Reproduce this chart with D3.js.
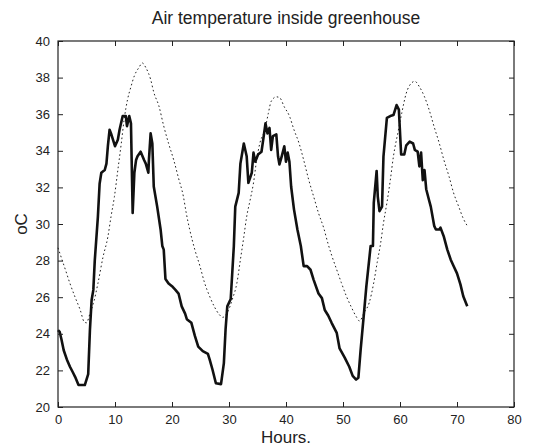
<!DOCTYPE html>
<html>
<head>
<meta charset="utf-8">
<script src="https://cdn.jsdelivr.net/npm/d3@7"></script>
<style>
  body { margin: 0; background: #fff; }
  text { font-family: "Liberation Sans", Arial, sans-serif; fill: #222; }
</style>
</head>
<body>
<svg id="chart" width="533" height="447"></svg>
<script>
// measured air temperature (solid)
const measuredHours = [0, 0.3, 0.6, 1.0, 1.55, 2.1, 2.6, 3.0, 3.6, 4.7, 5.3, 5.6, 5.9, 6.2, 6.45, 7.0, 7.3, 7.6, 8.2, 8.5,
  8.75, 9.05, 9.3, 10.0, 10.5, 10.8, 11.35, 11.9, 12.1, 12.5, 12.8, 13.1, 13.4, 13.7, 13.95, 14.5, 15.1, 15.4, 15.85, 15.95,
  16.25, 16.55, 16.8, 17.4, 18.0, 18.3, 18.55, 18.85, 19.4, 20.0, 20.6, 21.15, 21.7, 22.3, 22.6, 23.4, 24.0, 24.6, 25.4, 26.3,
  26.6, 27.1, 27.7, 28.6, 29.1, 29.4, 29.7, 30.3, 30.85, 31.1, 31.7, 32.0, 32.6, 33.1, 33.4, 34.0, 34.3, 34.6, 35.1, 35.7,
  36.0, 36.4, 36.75, 37.1, 37.4, 37.7, 38.3, 38.6, 38.85, 39.25, 39.7, 40.0, 40.3, 40.6, 40.9, 41.4, 42.0, 42.6, 43.1, 43.7,
  44.3, 44.85, 45.7, 46.3, 46.8, 47.4, 48.0, 48.9, 49.4, 50.3, 51.1, 51.7, 52.3, 52.7, 53.1, 53.7, 54.1, 54.85, 55.25, 55.4,
  55.9, 56.1, 56.4, 56.85, 57.1, 57.7, 58.3, 58.85, 59.4, 59.8, 60.2, 60.75, 61.1, 61.7, 62.3, 62.6, 63.1, 63.4, 63.7, 64.0,
  64.3, 64.6, 65.1, 65.4, 66.0, 66.3, 66.9, 67.1, 67.7, 68.3, 68.9, 69.4, 70.0, 70.6, 71.1, 71.8];
const measuredTemp = [24.2, 24.1, 23.7, 23.1, 22.6, 22.2, 21.9, 21.65, 21.2, 21.2, 21.8, 24.2, 25.85, 26.4, 28.0, 30.4, 32.2, 32.8, 32.95, 33.3,
  34.25, 35.15, 34.95, 34.25, 34.6, 35.15, 35.9, 35.9, 35.35, 35.9, 35.5, 30.6, 32.8, 33.5, 33.7, 33.95, 33.5, 33.3, 32.8, 33.5,
  34.95, 34.4, 32.05, 30.95, 29.7, 28.8, 28.6, 27.0, 26.75, 26.6, 26.4, 26.2, 25.5, 25.1, 24.8, 24.6, 23.9, 23.3, 23.05, 22.9,
  22.6, 22.05, 21.3, 21.25, 22.4, 24.25, 25.5, 25.9, 28.8, 30.95, 31.7, 33.3, 34.4, 33.7, 32.25, 32.8, 33.9, 33.4, 33.8, 33.95,
  34.6, 35.5, 34.95, 35.25, 34.05, 34.8, 34.9, 33.7, 33.25, 33.7, 34.25, 33.4, 33.9, 33.4, 32.05, 30.8, 29.7, 28.8, 27.7, 27.7,
  27.5, 26.95, 26.2, 25.95, 25.3, 25.0, 24.6, 24.05, 23.2, 22.7, 22.2, 21.7, 21.5, 21.6, 23.15, 25.2, 26.6, 28.8, 28.8, 31.15,
  32.9, 31.5, 30.7, 30.95, 33.7, 35.8, 35.9, 35.95, 36.5, 36.25, 33.8, 33.8, 34.3, 34.5, 34.4, 34.05, 33.95, 33.15, 33.9, 32.4,
  32.95, 31.9, 31.3, 30.95, 29.9, 29.7, 29.7, 29.8, 29.3, 28.6, 28.05, 27.7, 27.3, 26.7, 26.05, 25.5];

// second temperature series (dotted)
const dottedHours = [0, 1.3, 2.1, 3.0, 3.9, 4.6, 5.0, 5.6, 6.2, 7.0, 7.9, 8.75, 9.3, 9.9, 10.5, 11.1, 11.6, 12.2, 12.8, 13.4,
  14.2, 14.8, 15.4, 16.25, 16.8, 17.7, 18.55, 19.4, 20.3, 21.15, 22.0, 22.5, 23.1, 24.0, 24.9, 25.7, 26.6, 27.4, 28.3, 28.9,
  29.7, 30.6, 31.4, 32.0, 32.6, 33.1, 33.7, 34.3, 34.85, 35.4, 36.3, 36.9, 37.4, 38.3, 38.9, 39.7, 40.6, 41.4, 42.3, 43.1,
  44.0, 44.85, 45.7, 46.6, 47.4, 48.0, 48.9, 49.7, 50.6, 51.4, 52.3, 52.9, 53.7, 54.6, 55.4, 56.0, 56.6, 57.1, 57.7, 58.3,
  58.85, 59.6, 60.3, 61.1, 62.0, 62.6, 63.4, 64.3, 65.1, 66.0, 66.9, 67.7, 68.6, 69.4, 70.3, 71.1, 71.8];
const dottedTemp = [28.7, 27.5, 26.75, 26.0, 25.3, 24.65, 24.6, 25.1, 25.65, 26.75, 28.2, 29.3, 30.4, 31.5, 32.95, 34.4, 35.7, 36.8, 37.5, 38.1,
  38.55, 38.8, 38.55, 37.9, 37.2, 36.45, 35.35, 34.4, 33.5, 32.5, 31.5, 30.6, 29.7, 28.6, 27.7, 26.8, 26.05, 25.5, 25.05, 24.9,
  25.15, 25.9, 26.8, 28.05, 29.3, 30.4, 31.3, 32.25, 33.5, 34.4, 35.15, 36.05, 36.7, 36.95, 36.9, 36.4, 35.9, 35.15, 34.4, 33.5,
  32.4, 31.5, 30.6, 29.8, 28.9, 28.3, 27.5, 26.8, 26.05, 25.5, 24.95, 24.7, 25.15, 25.7, 26.8, 27.9, 28.95, 30.05, 31.15, 32.4,
  33.7, 34.95, 36.05, 37.15, 37.7, 37.8, 37.5, 36.95, 36.25, 35.3, 34.4, 33.5, 32.6, 31.7, 30.95, 30.3, 29.9];

const xTicks = [0, 10, 20, 30, 40, 50, 60, 70, 80];
const yTicks = [20, 22, 24, 26, 28, 30, 32, 34, 36, 38, 40];

const svg = d3.select("#chart");
const margin = {top: 41, right: 19, bottom: 40, left: 58};
const w = 533 - margin.left - margin.right;
const h = 447 - margin.top - margin.bottom;

const g = svg.append("g").attr("transform", `translate(${margin.left},${margin.top})`);

const x = d3.scaleLinear().domain([0, 80]).range([0, w]);
const y = d3.scaleLinear().domain([20, 40]).range([h, 0]);

// --- lines
g.append("path")
  .datum(dottedHours.map((t, i) => [t, dottedTemp[i]]))
  .attr("fill", "none")
  .attr("stroke", "#222")
  .attr("stroke-width", 1)
  .attr("stroke-dasharray", "1.6,2.6")
  .attr("d", d3.line().x(d => x(d[0])).y(d => y(d[1])).curve(d3.curveMonotoneX));

g.append("path")
  .datum(measuredHours.map((t, i) => [t, measuredTemp[i]]))
  .attr("fill", "none")
  .attr("stroke", "#111")
  .attr("stroke-width", 2.6)
  .attr("stroke-linejoin", "round")
  .attr("d", d3.line().x(d => x(d[0])).y(d => y(d[1])));

// --- axes (ticks inside, box on all sides)
const axisStyle = sel => {
  sel.select(".domain").remove();
  sel.selectAll(".tick line").attr("stroke", "#222");
  sel.selectAll(".tick text").style("font-size", "13px").attr("fill", "#222");
};

g.append("g").attr("transform", `translate(0,${h})`)
  .call(d3.axisBottom(x).tickValues(xTicks).tickSize(-5).tickPadding(8))
  .call(axisStyle);
g.append("g")
  .call(d3.axisTop(x).tickValues(xTicks).tickSize(-5).tickFormat(""))
  .call(axisStyle);
g.append("g")
  .call(d3.axisLeft(y).tickValues(yTicks).tickSize(-5).tickPadding(8))
  .call(axisStyle);
g.append("g").attr("transform", `translate(${w},0)`)
  .call(d3.axisRight(y).tickValues(yTicks).tickSize(-5).tickFormat(""))
  .call(axisStyle);

g.append("rect")
  .attr("width", w).attr("height", h)
  .attr("fill", "none").attr("stroke", "#222").attr("stroke-width", 1.2);

// --- labels
svg.append("text")
  .attr("x", margin.left + w / 2).attr("y", 24)
  .attr("text-anchor", "middle").style("font-size", "17.5px")
  .text("Air temperature inside greenhouse");

svg.append("text")
  .attr("x", margin.left + w / 2).attr("y", 443)
  .attr("text-anchor", "middle").style("font-size", "17px")
  .text("Hours.");

svg.append("text")
  .attr("transform", `translate(27,${margin.top + h / 2}) rotate(-90)`)
  .attr("text-anchor", "middle").style("font-size", "17px")
  .text("oC");
</script>
</body>
</html>
